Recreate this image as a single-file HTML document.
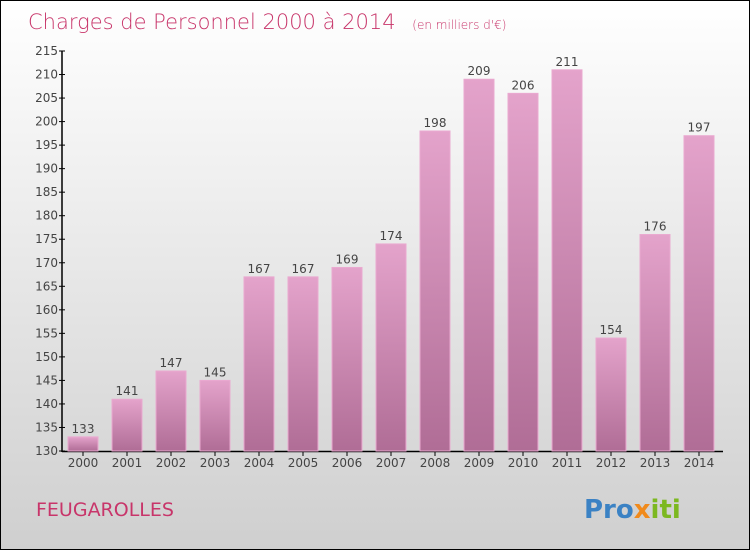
<!DOCTYPE html>
<html><head><meta charset="utf-8"><style>
body{margin:0}
#c{width:750px;height:550px;position:relative;box-sizing:border-box;border:1px solid #000;background:linear-gradient(#ffffff,#cfcfcf);font-family:"DejaVu Sans","Liberation Sans",sans-serif;overflow:hidden}
</style></head><body>
<div id="c">
<svg id="s" width="750" height="550" style="position:absolute;left:0;top:0">
<defs><linearGradient id="g" x1="0" y1="0" x2="0" y2="1"><stop offset="0" stop-color="#e4a3cb"/><stop offset="1" stop-color="#b06d96"/></linearGradient></defs>
<text x="27" y="28" font-size="21" fill="#c8356a" font-weight="200">Charges de Personnel 2000 à 2014 <tspan font-size="12" dx="10">(en milliers d'€)</tspan></text>
<text x="35" y="515" font-size="19" fill="#c8356a">FEUGAROLLES</text>
<text x="583" y="517" font-size="26" font-weight="bold"><tspan fill="#3b82c4">Pro</tspan><tspan fill="#f08a1c">x</tspan><tspan fill="#7cb820">iti</tspan></text>
<g id="ax"></g><g id="bars"></g>
</svg></div>
<script>
const years=["2000","2001","2002","2003","2004","2005","2006","2007","2008","2009","2010","2011","2012","2013","2014"];
const values=[133,141,147,145,167,167,169,174,198,209,206,211,154,176,197];
const ticks=[130,135,140,145,150,155,160,165,170,175,180,185,190,195,200,205,210,215];
const ns="http://www.w3.org/2000/svg";
const y=v=>450-(v-130)*400/85;
const x=i=>67+i*44;
function mk(t,a,p){const e=document.createElementNS(ns,t);for(const k in a)e.setAttribute(k,a[k]);p.appendChild(e);return e;}
const ax=document.getElementById('ax'),bg=document.getElementById('bars');
let l=mk('line',{x1:61,y1:50,x2:61,y2:451,stroke:'#000','stroke-width':1.5},ax);

l=mk('line',{x1:61,y1:450.5,x2:722,y2:450.5,stroke:'#000','stroke-width':1.5},ax);

ticks.forEach(t=>{const k=mk('line',{x1:58,x2:64,y1:y(t),y2:y(t),stroke:'#000'},ax);

const tx=mk('text',{x:57,y:y(t)+4,'font-size':12,fill:'#444','text-anchor':'end'},ax);tx.textContent=t;
});
years.forEach((yr,i)=>{const v=values[i];
const r=mk('rect',{x:x(i),y:y(v),width:30,height:450-y(v),fill:'url(#g)',stroke:'#eaa9d0'},bg);

const k=mk('line',{x1:x(i)+15,x2:x(i)+15,y1:450,y2:455,stroke:'#000'},ax);

const tx=mk('text',{x:x(i)+15,y:466,'font-size':12,fill:'#444','text-anchor':'middle'},ax);tx.textContent=yr;

const vl=mk('text',{x:x(i)+15,y:y(v)-4,'font-size':12,fill:'#444','text-anchor':'middle'},bg);vl.textContent=v;
});
</script></body></html>
